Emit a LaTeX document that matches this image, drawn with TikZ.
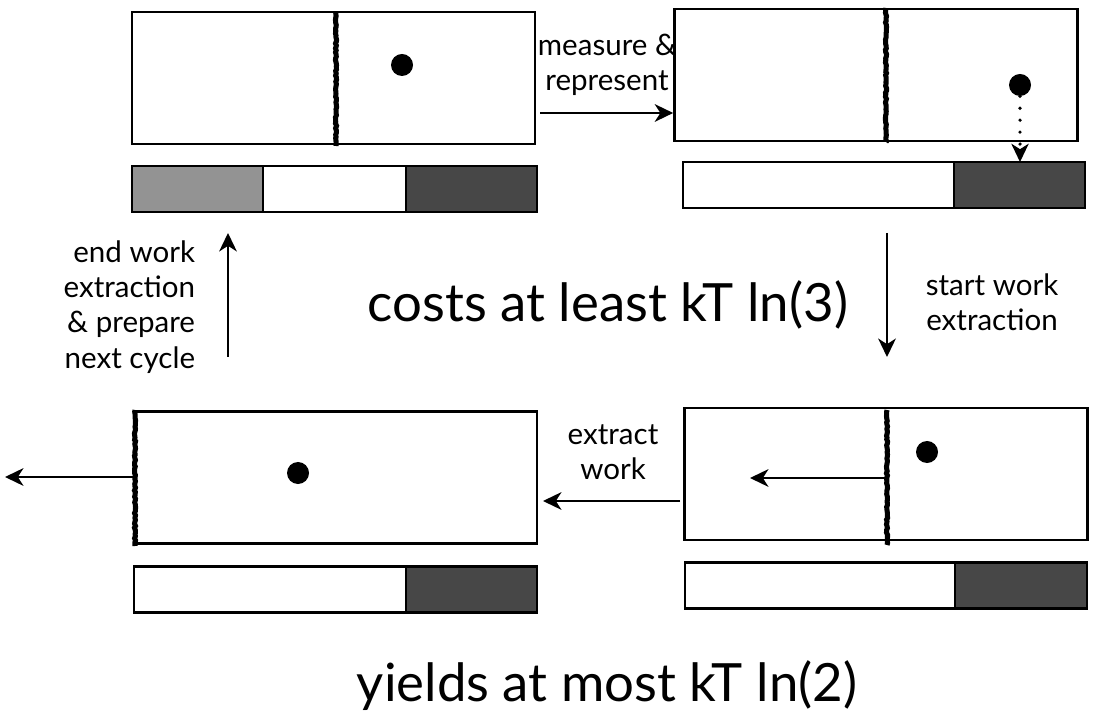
\documentclass[tikz,border=0pt]{standalone}
\usepackage{fontspec}
\setmainfont{Lato}
\usetikzlibrary{arrows.meta,positioning,decorations.pathmorphing}
\definecolor{tapegray}{RGB}{147,147,147}
\definecolor{tapedark}{RGB}{71,71,71}

\begin{document}
\begin{tikzpicture}[x=0.025cm,y=-0.025cm,
  chamber/.style={draw,line width=1.8pt,minimum width=10.075cm,minimum height=3.3cm,inner sep=0pt},
  cell/.style={draw,line width=1.8pt,minimum height=1.15cm,inner sep=0pt,outer sep=0pt},
  particle/.style={circle,fill=black,minimum size=0.55cm,inner sep=0pt},
  wall/.style={line width=3.6pt,decorate,decoration={random steps,segment length=1.5pt,amplitude=0.4pt}},
  flow/.style={line width=1.9pt,-{Stealth[length=4.6mm,width=4.4mm,inset=1.4mm]}},
  note/.style={font=\fontsize{21}{25}\selectfont,align=center},
  claim/.style={font=\fontsize{37.5}{42}\selectfont}]
  \useasboundingbox (0,0) rectangle (1103,720);
  % chambers
  \node[chamber] (box1) at (333.5,78) {};
  \node[chamber] (box2) at (876,75) {};
  \node[chamber] (box3) at (886,474) {};
  \node[chamber] (box4) at (335.5,477.5) {};
  \draw[wall] (336,12) -- (336,146);
  \draw[wall] (886,8) -- (886,142);
  \draw[wall] (887,410) -- (887,545);
  \draw[wall] (135,410) -- (135,546);
  \node[particle] (dot1) at (402,65) {};
  \node[particle] (dot2) at (1020,85) {};
  \node[particle] (dot3) at (927,452) {};
  \node[particle] (dot4) at (298,473) {};
  % memory tapes
  \node[cell,fill=tapegray,minimum width=3.275cm] (t1a) at (197.5,189) {};
  \node[cell,minimum width=3.575cm,right=0pt of t1a] (t1b) {};
  \node[cell,fill=tapedark,minimum width=3.275cm,right=0pt of t1b] (t1c) {};
  \node[cell,minimum width=6.775cm] (t2a) at (818.5,185) {};
  \node[cell,fill=tapedark,minimum width=3.275cm,right=0pt of t2a] (t2b) {};
  \node[cell,minimum width=6.75cm] (t3a) at (820,585.5) {};
  \node[cell,fill=tapedark,minimum width=3.3cm,right=0pt of t3a] (t3b) {};
  \node[cell,minimum width=6.8cm] (t4a) at (270,589.5) {};
  \node[cell,fill=tapedark,minimum width=3.275cm,right=0pt of t4a] (t4b) {};
  % labels
  \node[note] (lmeas) at (607,65) {measure \&\\represent};
  \node[note] (lstart) at (992,302) {start work\\extraction};
  \node[note] (lextr) at (613,452) {extract\\work};
  \node[note,align=right,anchor=east] (lend) at (200,307) {end work\\extraction\\\& prepare\\next cycle};
  \node[claim] (cost) at (608,305) {costs at least kT ln(3)};
  \node[claim] (yield) at (607,686) {yields at most kT ln(2)};
  % arrows
  \coordinate (m1) at (540,113);
  \draw[flow] (m1) -- (m1 -| box2.west);
  \coordinate (s1) at (887,233);
  \coordinate (s2) at (887,357);
  \draw[flow] (s1) -- (s2);
  \coordinate (e1) at (228,357);
  \coordinate (e2) at (228,233);
  \draw[flow] (e1) -- (e2);
  \coordinate (x1) at (680,501);
  \draw[flow] (x1) -- (x1 -| 543,0);
  \coordinate (p3) at (887,478);
  \draw[flow] (p3) -- (750,478);
  \coordinate (w4) at (5,477);
  \draw[flow] (box4.west |- w4) -- (w4);
  \draw[line width=2.6pt,dash pattern=on 0pt off 8.5pt,line cap=round,
    -{Stealth[length=4.6mm,width=4.4mm,inset=1.4mm,line width=0pt]}] (dot2) -- (dot2 |- t2b.north);
\end{tikzpicture}
\end{document}
